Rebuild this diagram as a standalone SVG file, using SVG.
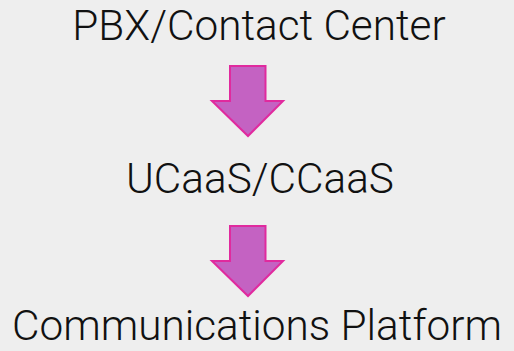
<svg xmlns="http://www.w3.org/2000/svg" width="514" height="351" viewBox="0 0 514 351">
<style>
.t{font-family:Roboto,"Liberation Sans",sans-serif;font-weight:300;font-size:42.3px;fill:#111;text-anchor:middle}
.a{fill:#c462c2;stroke:#e02a9e;stroke-width:2;stroke-linejoin:miter}
</style>
<rect width="514" height="351" fill="#eeeeee"/>
<g id="n1"><text class="t" x="259" y="40">PBX/Contact Center</text></g>
<g id="n2"><text class="t" x="260" y="193">UCaaS/CCaaS</text></g>
<g id="n3"><text class="t" x="257" y="340">Communications Platform</text></g>
<g id="connectors">
<path class="a" d="M230,66 H265.5 V101 H283 L248,136 L212,101 H230 Z"/>
<path class="a" d="M230,226 H265.5 V261 H283 L248,296 L212,261 H230 Z"/>
</g>
</svg>
